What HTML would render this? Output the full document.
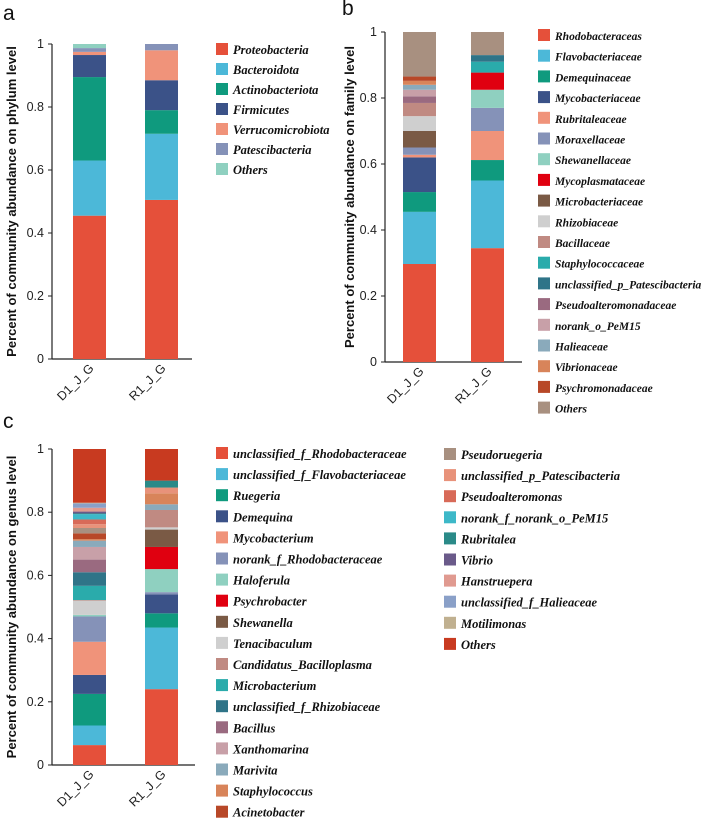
<!DOCTYPE html>
<html><head><meta charset="utf-8"><style>
body{margin:0;background:#fff;}
svg{display:block;font-family:"Liberation Sans",sans-serif;}
.lg{font-family:"Liberation Serif",serif;font-style:italic;font-weight:bold;font-size:12.5px;fill:#111;}
.tk{font-size:12.5px;fill:#222;}
.yt{font-size:13px;font-weight:bold;fill:#111;}
</style></head><body>
<svg id="c" width="708" height="822"></svg>
<script>
const samples=["D1_J_G","R1_J_G"];
const yTicks=[0,0.2,0.4,0.6,0.8,1];
const yTickLabels=["0","0.2","0.4","0.6","0.8","1"];
const phylumNames=["Proteobacteria","Bacteroidota","Actinobacteriota","Firmicutes","Verrucomicrobiota","Patescibacteria","Others"];
const phylumColors=["#e5503a","#4cb8d8","#0f9a7e","#3b5288","#f0937a","#8592b8","#8fd0c0"];
const phylumD1=[0.455,0.175,0.265,0.07,0.01,0.012,0.013];
const phylumR1=[0.505,0.21,0.075,0.095,0.095,0.02,0];
const familyNames=["Rhodobacteraceas","Flavobacteriaceae","Demequinaceae","Mycobacteriaceae","Rubritaleaceae","Moraxellaceae","Shewanellaceae","Mycoplasmataceae","Microbacteriaceae","Rhizobiaceae","Bacillaceae","Staphylococcaceae","unclassified_p_Patescibacteria","Pseudoalteromonadaceae","norank_o_PeM15","Halieaceae","Vibrionaceae","Psychromonadaceae","Others"];
const familyColors=["#e5503a","#4cb8d8","#0f9a7e","#3b5288","#f0937a","#8592b8","#8fd0c0","#e00010","#7a5a45","#cfcfcf","#c08a82","#2aabab","#2f7488","#9a6a80","#c8a0a8","#8aaabb","#d8845a","#b84828","#a89080"];
const familyD1=[0.297,0.158,0.06,0.105,0.008,0.022,0,0,0.05,0.045,0.04,0,0,0.02,0.02,0.015,0.012,0.013,0.135];
const familyR1=[0.345,0.205,0.062,0,0.088,0.07,0.055,0.052,0,0,0,0.033,0.02,0,0,0,0,0,0.07];
const genusNames=["unclassified_f_Rhodobacteraceae","unclassified_f_Flavobacteriaceae","Ruegeria","Demequina","Mycobacterium","norank_f_Rhodobacteraceae","Haloferula","Psychrobacter","Shewanella","Tenacibaculum","Candidatus_Bacilloplasma","Microbacterium","unclassified_f_Rhizobiaceae","Bacillus","Xanthomarina","Marivita","Staphylococcus","Acinetobacter","Pseudoruegeria","unclassified_p_Patescibacteria","Pseudoalteromonas","norank_f_norank_o_PeM15","Rubritalea","Vibrio","Hanstruepera","unclassified_f_Halieaceae","Motilimonas","Others"];
const genusColors=["#e5503a","#4cb8d8","#0f9a7e","#3b5288","#f0937a","#8592b8","#8fd0c0","#e00010","#7a5a45","#cfcfcf","#c08a82","#2aabab","#2f7488","#9a6a80","#c8a0a8","#8aaabb","#d8845a","#b84828","#a89080","#e8927a","#d86a58","#3db8c8","#2a8a88","#6a5a8a","#e09a90","#8aa0c8","#c0b090","#c83a20"];
const genusD1=[0.063,0.062,0.1,0.06,0.105,0.08,0.005,0,0,0.045,0.002,0.045,0.043,0.04,0.04,0.02,0.005,0.018,0.017,0.012,0.015,0.017,0.002,0.006,0.012,0.014,0.002,0.17];
const genusR1=[0.24,0.195,0.045,0.06,0,0.007,0.073,0.07,0.055,0.007,0.055,0,0,0,0,0.018,0.035,0,0,0.018,0,0,0.022,0,0,0,0,0.1];

const NS="http://www.w3.org/2000/svg";
const svg=document.getElementById('c');
function mk(t,a,p){const e=document.createElementNS(NS,t);for(const k in a)e.setAttribute(k,a[k]);(p||svg).appendChild(e);return e;}

function panel(cfg){
  const g=mk('g',{});
  
  
  const y=v=>cfg.y0-(cfg.y0-cfg.y1)*v;
  const lab=mk('text',{x:cfg.lx,y:cfg.ly,'font-size':21,fill:'#111'},g);lab.textContent=cfg.letter;
  
  
  const ya=mk('line',{x1:cfg.ax,x2:cfg.ax,y1:cfg.y1,y2:cfg.y0,stroke:'#222','stroke-width':1.2},g);
  
  
  const xa=mk('line',{x1:cfg.ax,x2:cfg.axEnd,y1:cfg.y0,y2:cfg.y0,stroke:'#222','stroke-width':1.2},g);
  
  
  yTicks.forEach((t,i)=>{
    mk('line',{x1:cfg.ax-4,x2:cfg.ax,y1:y(t),y2:y(t),stroke:'#222'},g);
    const tx=mk('text',{x:cfg.ax-8,y:y(t)+4,'text-anchor':'end',class:'tk'},g);tx.textContent=yTickLabels[i];
    
    
  });
  const yt=mk('text',{x:0,y:0,'text-anchor':'middle',class:'yt',transform:`translate(${cfg.tx},${(cfg.y0+cfg.y1)/2}) rotate(-90)`},g);
  yt.textContent=cfg.title;
  
  
  [cfg.d1,cfg.r1].forEach((vals,si)=>{
    const bx=cfg.bx[si];let acc=0;
    vals.forEach((v,k)=>{
      if(v<=0)return;
      const r=mk('rect',{x:bx,width:33,y:y(acc+v),height:y(acc)-y(acc+v),fill:cfg.colors[k]},g);
      
      
      acc+=v;
    });
    const cx=bx+16.5;
    const xl=mk('text',{x:0,y:0,'text-anchor':'end',class:'tk',transform:`translate(${cx+5},${cfg.y0+10}) rotate(-45)`},g);
    xl.textContent=samples[si];
    
    
  });
  cfg.names.forEach((n,k)=>{
    const col=cfg.legCols.find(c=>k>=c.from&&k<c.to);
    const i=k-col.from;const ry=col.y+i*cfg.ls;
    const le=mk('g',{},g);
    
    
    mk('rect',{x:col.x,y:ry-6,width:12,height:12,fill:cfg.colors[k]},le);
    const t=mk('text',{x:col.x+17,y:ry+5,class:'lg','font-size':cfg.lfs},le);
    t.style.fontSize=cfg.lfs+'px';
    t.textContent=n;
    if(n==='Others')t.setAttribute('font-style','normal');
  });
}
panel({id:'phylum',letter:'a',lx:3,ly:20,ax:52,axEnd:192,y0:359,y1:44,bx:[73,145],tx:16,lfs:12.5,
  title:'Percent of community abundance on phylum level',names:phylumNames,colors:phylumColors,d1:phylumD1,r1:phylumR1,
  legCols:[{from:0,to:99,x:216,y:49}],ls:20});
panel({id:'family',letter:'b',lx:342,ly:15,ax:385,axEnd:522,y0:362,y1:32,bx:[403,471],tx:354,lfs:11.5,
  title:'Percent of community abundance on family level',names:familyNames,colors:familyColors,d1:familyD1,r1:familyR1,
  legCols:[{from:0,to:99,x:538,y:35}],ls:20.7});
panel({id:'genus',letter:'c',lx:3,ly:428,ax:52,axEnd:195,y0:765,y1:449,bx:[73,145],tx:16,lfs:12.5,
  title:'Percent of community abundance on genus level',names:genusNames,colors:genusColors,d1:genusD1,r1:genusR1,
  legCols:[{from:0,to:18,x:216,y:453},{from:18,to:99,x:444,y:454}],ls:21.1});
</script>
</body></html>
